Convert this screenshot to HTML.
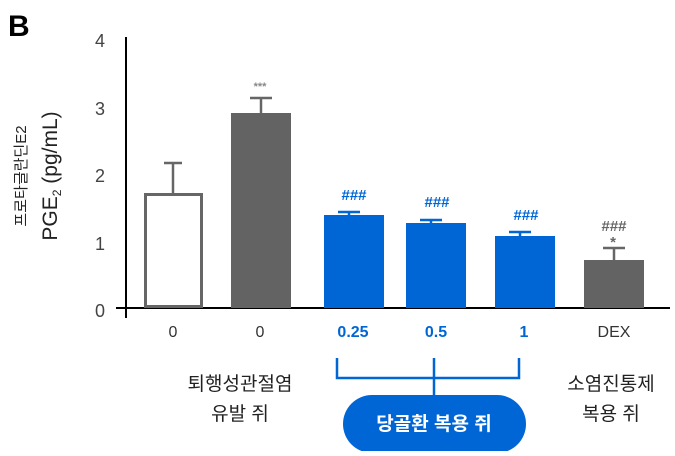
<!DOCTYPE html>
<html><head><meta charset="utf-8"><style>
body{margin:0;width:675px;height:451px;background:#fff;overflow:hidden}
text{font-family:"Liberation Sans","Noto Sans CJK KR",sans-serif}
</style></head><body>
<svg width="675" height="451" viewBox="0 0 675 451" xmlns="http://www.w3.org/2000/svg">
<text x="8" y="36" font-size="30" font-weight="bold" fill="#000">B</text>
<line x1="126" y1="37" x2="126" y2="318" stroke="#000" stroke-width="2"/>
<line x1="116" y1="308" x2="670" y2="308" stroke="#000" stroke-width="2"/>
<g font-size="18" fill="#444" text-anchor="middle">
<text x="100" y="47">4</text><text x="100" y="115">3</text><text x="100" y="182">2</text><text x="100" y="250">1</text><text x="100" y="317">0</text>
</g>
<text transform="translate(26,176) rotate(-90)" font-size="15" text-anchor="middle" fill="#222">프로타글란딘E2</text>
<text transform="translate(57,176) rotate(-90)" font-size="21" text-anchor="middle" fill="#222">PGE<tspan font-size="12" dy="4">2</tspan><tspan dy="-4"> (pg/mL)</tspan></text>
<g stroke="#666" stroke-width="2.5">
<line x1="173" y1="163" x2="173" y2="194"/><line x1="164" y1="163" x2="182" y2="163"/>
<line x1="261" y1="98" x2="261" y2="113"/><line x1="250" y1="98" x2="272" y2="98"/>
<line x1="614" y1="248" x2="614" y2="260"/><line x1="603" y1="248" x2="625" y2="248"/>
</g>
<g stroke="#0066d6" stroke-width="2.5">
<line x1="338" y1="212" x2="360" y2="212"/><line x1="349" y1="212" x2="349" y2="216"/>
<line x1="420" y1="220" x2="442" y2="220"/><line x1="431" y1="220" x2="431" y2="224"/>
<line x1="509" y1="232" x2="531" y2="232"/><line x1="520" y1="232" x2="520" y2="237"/>
</g>
<rect x="145.5" y="194.5" width="56" height="112" fill="#fff" stroke="#666" stroke-width="3"/>
<rect x="231" y="113" width="60" height="195" fill="#636363"/>
<rect x="324" y="215" width="60" height="93" fill="#0066d6"/>
<rect x="406" y="223" width="60" height="85" fill="#0066d6"/>
<rect x="495" y="236" width="60" height="72" fill="#0066d6"/>
<rect x="584" y="260" width="60" height="48" fill="#636363"/>
<g font-size="15" text-anchor="middle" font-weight="bold">
<text x="260" y="90" fill="#888" font-size="11">***</text>
<text x="354" y="200" fill="#0066d6">###</text>
<text x="437" y="207" fill="#0066d6">###</text>
<text x="526" y="220" fill="#0066d6">###</text>
<text x="614" y="231" fill="#666">###</text>
<text x="613" y="247" fill="#666" font-size="15">*</text>
</g>
<g font-size="16" text-anchor="middle">
<text x="173" y="337" fill="#333">0</text>
<text x="260" y="337" fill="#333">0</text>
<text x="353" y="337" fill="#0066d6" font-weight="bold">0.25</text>
<text x="436" y="337" fill="#0066d6" font-weight="bold">0.5</text>
<text x="524" y="337" fill="#0066d6" font-weight="bold">1</text>
<text x="614" y="337" fill="#333">DEX</text>
<text x="240" y="390" font-size="19" fill="#222">퇴행성관절염</text>
<text x="240" y="420" font-size="19" fill="#222">유발 쥐</text>
<text x="611" y="390" font-size="19" fill="#222">소염진통제</text>
<text x="611" y="420" font-size="19" fill="#222">복용 쥐</text>
</g>
<path d="M337 358V378H519V358M434 358V395" fill="none" stroke="#0066d6" stroke-width="2.5"/>
<rect x="343" y="395" width="183" height="58" rx="29" fill="#0066d6"/>
<text x="434" y="430" font-size="19" font-weight="bold" fill="#fff" text-anchor="middle">당골환 복용 쥐</text>
</svg>
</body></html>
